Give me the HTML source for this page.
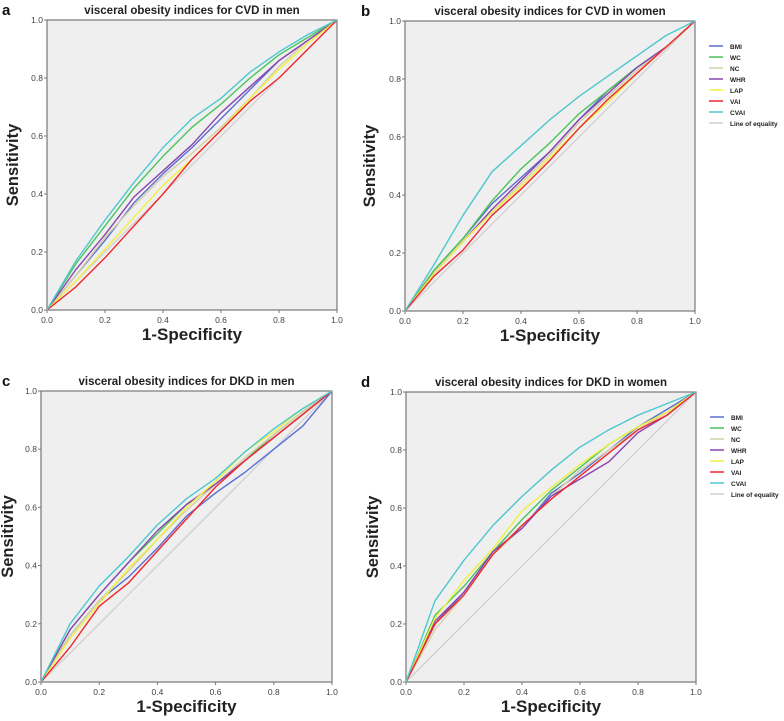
<!DOCTYPE html>
<html><head><meta charset="utf-8"><style>
body{margin:0;background:#fff;width:784px;height:721px;overflow:hidden}
svg{display:block;font-family:"Liberation Sans",Arial,sans-serif}
</style></head><body>
<svg id="chart" width="784" height="721" viewBox="0 0 784 721"></svg>
<script>
const xs=[0,0.1,0.2,0.3,0.4,0.5,0.6,0.7,0.8,0.9,1];
const seriesNames=["BMI","WC","NC","WHR","LAP","VAI","CVAI"];
const seriesColors=["#5b6fd0","#4cc35a","#d4cfa8","#8b44b0","#f0f040","#f0282e","#4dc8d0"];
const ticks=[0,0.2,0.4,0.6,0.8,1.0];
const tickLabels=["0.0","0.2","0.4","0.6","0.8","1.0"];
const panelTitles=["visceral obesity indices for CVD in men","visceral obesity indices for CVD in women","visceral obesity indices for DKD in men","visceral obesity indices for DKD in women"];
const panelLetters=["a","b","c","d"];
// panel a
const aBMI=[0,.12,.24,.37,.47,.56,.66,.76,.86,.93,1];
const aWC=[0,.16,.29,.42,.53,.63,.71,.80,.88,.94,1];
const aNC=[0,.12,.25,.36,.46,.54,.63,.73,.84,.93,1];
const aWHR=[0,.14,.26,.39,.48,.57,.68,.77,.86,.93,1];
const aLAP=[0,.10,.21,.32,.43,.52,.62,.73,.83,.92,1];
const aVAI=[0,.08,.18,.29,.40,.52,.62,.72,.80,.90,1];
const aCVAI=[0,.17,.31,.44,.56,.66,.73,.82,.89,.95,1];
// panel b
const bBMI=[0,.14,.25,.37,.46,.55,.66,.76,.84,.91,1];
const bWC=[0,.14,.25,.38,.49,.58,.68,.76,.84,.91,1];
const bNC=[0,.13,.24,.34,.44,.54,.65,.74,.83,.91,1];
const bWHR=[0,.13,.24,.35,.45,.55,.66,.75,.84,.91,1];
const bLAP=[0,.13,.24,.34,.43,.53,.63,.72,.82,.91,1];
const bVAI=[0,.12,.21,.33,.42,.52,.63,.73,.82,.91,1];
const bCVAI=[0,.16,.33,.48,.57,.66,.74,.81,.88,.95,1];
// panel c
const cBMI=[0,.16,.28,.36,.46,.57,.65,.72,.80,.88,1];
const cWC=[0,.18,.30,.41,.51,.61,.68,.76,.85,.93,1];
const cNC=[0,.16,.28,.38,.49,.59,.68,.77,.85,.93,1];
const cWHR=[0,.18,.30,.41,.52,.61,.68,.76,.84,.92,1];
const cLAP=[0,.15,.27,.39,.49,.60,.69,.79,.86,.94,1];
const cVAI=[0,.12,.26,.34,.45,.56,.67,.76,.84,.92,1];
const cCVAI=[0,.20,.33,.43,.54,.63,.70,.79,.87,.94,1];
// panel d
const dBMI=[0,.20,.31,.45,.53,.65,.72,.80,.88,.94,1];
const dWC=[0,.23,.33,.45,.56,.66,.74,.82,.88,.93,1];
const dNC=[0,.18,.30,.44,.53,.64,.73,.80,.87,.93,1];
const dWHR=[0,.21,.31,.45,.53,.64,.70,.76,.86,.92,1];
const dLAP=[0,.22,.35,.46,.59,.67,.75,.82,.88,.93,1];
const dVAI=[0,.20,.30,.44,.54,.63,.71,.79,.87,.92,1];
const dCVAI=[0,.28,.42,.54,.64,.73,.81,.87,.92,.96,1];
const panelData=[[aBMI,aWC,aNC,aWHR,aLAP,aVAI,aCVAI],[bBMI,bWC,bNC,bWHR,bLAP,bVAI,bCVAI],[cBMI,cWC,cNC,cWHR,cLAP,cVAI,cCVAI],[dBMI,dWC,dNC,dWHR,dLAP,dVAI,dCVAI]];
const boxes=[{l:47,t:20,s:290,leg:false,yx:18},{l:405,t:21,s:290,leg:true,yx:375},{l:41,t:391,s:291,leg:false,yx:13},{l:406,t:392,s:290,leg:true,yx:378}];
const NS="http://www.w3.org/2000/svg";
const svg=document.getElementById("chart");
function mk(tag,attrs,parent,text){const e=document.createElementNS(NS,tag);for(const k in attrs)e.setAttribute(k,attrs[k]);if(text!==undefined)e.textContent=text;(parent||svg).appendChild(e);return e;}
boxes.forEach((b,p)=>{
  const g=mk("g",{});
  
  
  const sx=v=>b.l+v*b.s, sy=v=>b.t+b.s-v*b.s;
  const bg=mk("rect",{x:b.l,y:b.t,width:b.s,height:b.s,fill:"#efefef",stroke:"#777","stroke-width":1.2},g);
  
  
  const cx=b.l+b.s/2;
  const tt=mk("text",{x:cx,y:b.t-6,"text-anchor":"middle","font-size":"11.5","font-weight":"bold",fill:"#222"},g,panelTitles[p]);
  
  
  const lt=mk("text",{x:(p%2===0?2:361),y:b.t-5,"font-size":"15","font-weight":"bold",fill:"#111"},g,panelLetters[p]);
  
  
  ticks.forEach((t,i)=>{
    mk("line",{x1:sx(t),x2:sx(t),y1:b.t+b.s,y2:b.t+b.s+3,stroke:"#777"},g);
    mk("line",{x1:b.l-3,x2:b.l,y1:sy(t),y2:sy(t),stroke:"#777"},g);
    const xl=mk("text",{x:sx(t),y:b.t+b.s+13,"text-anchor":"middle","font-size":"8.5",fill:"#444"},g,tickLabels[i]);
    
    
    const yl=mk("text",{x:b.l-4,y:sy(t)+3,"text-anchor":"end","font-size":"8.5",fill:"#444"},g,tickLabels[i]);
    
    
  });
  const xt=mk("text",{x:cx,y:b.t+b.s+30,"text-anchor":"middle","font-size":"17","font-weight":"bold",fill:"#222"},g,"1-Specificity");
  
  
  const yx=b.yx, yy=b.t+b.s/2;
  const yt=mk("text",{x:yx,y:yy,"text-anchor":"middle","font-size":"16.5","font-weight":"bold",fill:"#222",transform:`rotate(-90 ${yx} ${yy})`},g,"Sensitivity");
  
  
  const eq=mk("line",{x1:sx(0),y1:sy(0),x2:sx(1),y2:sy(1),stroke:"#d0d0d0","stroke-width":1.3},g);
  
  
  panelData[p].forEach((arr,si)=>{
    const d=arr.map((v,i)=>(i?"L":"M")+sx(xs[i]).toFixed(1)+","+sy(v).toFixed(1)).join("");
    const pl=mk("path",{d:d,fill:"none",stroke:seriesColors[si],"stroke-width":1.4,"stroke-linejoin":"round"},g);
    
    
  });
  if(b.leg){
    const lx=b.l+b.s+14, ly=b.t+25;
    const names=seriesNames.concat(["Line of equality"]), cols=seriesColors.concat(["#d0d0d0"]);
    names.forEach((n,i)=>{
      const le=mk("g",{},g);
      
      
      mk("line",{x1:lx,x2:lx+14,y1:ly+i*11,y2:ly+i*11,stroke:cols[i],"stroke-width":1.5},le);
      mk("text",{x:lx+21,y:ly+i*11+3,"font-size":"6.5","font-weight":"bold",fill:"#222"},le,n);
    });
  }
});
</script>
</body></html>
